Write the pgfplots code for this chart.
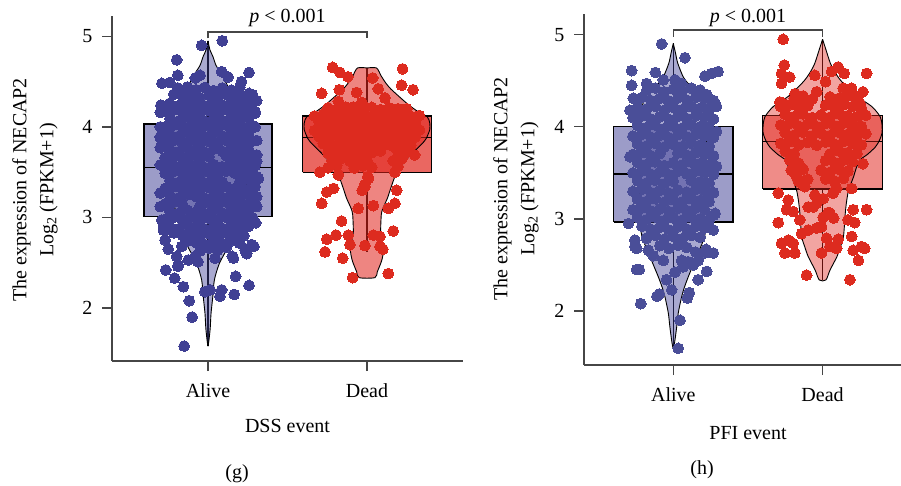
\documentclass[border=0pt]{standalone}
\usepackage{fontspec}
\setmainfont{Liberation Serif}
\usepackage{pgfplots}
\pgfplotsset{compat=1.18}
\definecolor{bbase}{RGB}{65,65,150}
\definecolor{rbase}{RGB}{225,38,30}
\definecolor{ptblueg}{RGB}{64,64,148}
\definecolor{ptblueh}{RGB}{74,78,152}
\definecolor{ptred}{RGB}{221,43,31}
\definecolor{axcol}{RGB}{70,70,70}
\newcommand\bigf{\fontsize{20}{24}\selectfont}
\pgfplotsset{
  myax/.style={scale only axis, axis lines*=left, clip=false, enlargelimits=false,
    xtick={0,1}, xticklabels={Alive,Dead}, ytick={2,3,4,5},
    tick align=outside, major tick length=10pt,
    tick style={line width=1.3pt, axcol},
    axis line style={line width=1.4pt, axcol},
    tick label style={font=\bigf},
    /pgf/number format/assume math mode=true,
    xticklabel style={anchor=base, yshift=-26pt},
    yticklabel style={anchor=east, xshift=-6pt},
  },
  violin/.style={draw=black, line width=0.9pt, smooth, tension=0.45},
  boxst/.style={draw=black, line width=1.3pt, line join=miter},
  pts/.style={only marks, mark=*, mark size=5.4pt, color=#1, mark options={solid, draw=#1, fill=#1, line width=0pt}},
}
\begin{document}
\begin{tikzpicture}
\useasboundingbox (0,0) rectangle (901pt,485pt);
% ---------------- panel g ----------------
\begin{axis}[myax, at={(112pt,124pt)}, anchor=south west, width=351pt, height=345pt,
  xmin=-0.604, xmax=1.604, ymin=1.415, ymax=5.224]
% boxes
\addplot[boxst, fill=bbase, fill opacity=0.52] coordinates {(-0.403,3.01)(0.403,3.01)(0.403,4.03)(-0.403,4.03)(-0.403,3.01)};
\addplot[black, line width=1.5pt] coordinates {(-0.403,3.55)(0.403,3.55)};
\addplot[black, line width=1.3pt] coordinates {(0,4.03)(0,4.95)};
\addplot[black, line width=1.3pt] coordinates {(0,1.58)(0,3.01)};
\addplot[boxst, fill=rbase, fill opacity=0.70] coordinates {(0.595,3.50)(1.405,3.50)(1.405,4.12)(0.595,4.12)(0.595,3.50)};
\addplot[black, line width=1.5pt] coordinates {(0.595,3.885)(1.405,3.885)};
\addplot[black, line width=1.3pt] coordinates {(1,4.12)(1,4.65)};
\addplot[black, line width=1.3pt] coordinates {(1,2.62)(1,3.50)};
% violins
\addplot[violin, fill=bbase, fill opacity=0.45] coordinates {
(0,4.95)(0.012,4.85)(0.03,4.78)(0.05,4.68)(0.082,4.59)(0.11,4.50)(0.135,4.41)(0.165,4.32)(0.197,4.22)(0.22,4.10)(0.24,3.95)(0.25,3.75)(0.25,3.55)(0.24,3.35)(0.215,3.15)(0.19,2.97)(0.176,2.86)(0.128,2.68)(0.071,2.49)(0.04,2.31)(0.03,2.125)(0.019,1.94)(0.013,1.76)(0,1.59)
(-0.013,1.76)(-0.019,1.94)(-0.03,2.125)(-0.04,2.31)(-0.071,2.49)(-0.128,2.68)(-0.176,2.86)(-0.19,2.97)(-0.215,3.15)(-0.24,3.35)(-0.25,3.55)(-0.25,3.75)(-0.24,3.95)(-0.22,4.10)(-0.197,4.22)(-0.165,4.32)(-0.135,4.41)(-0.11,4.50)(-0.082,4.59)(-0.05,4.68)(-0.03,4.78)(-0.012,4.85)(0,4.95)};
\addplot[violin, fill=rbase, fill opacity=0.56] coordinates {
(1,4.65)(1.06,4.65)(1.09,4.56)(1.12,4.48)(1.149,4.42)(1.205,4.33)(1.264,4.24)(1.32,4.17)(1.38,4.11)(1.395,4.04)(1.395,3.97)(1.38,3.90)(1.36,3.84)(1.275,3.69)(1.22,3.58)(1.18,3.47)(1.149,3.32)(1.128,3.21)(1.10,3.10)(1.09,3.03)(1.086,2.84)(1.095,2.75)(1.105,2.66)(1.10,2.58)(1.09,2.51)(1.065,2.40)(1.05,2.335)
(0.95,2.335)(0.935,2.40)(0.91,2.51)(0.90,2.58)(0.895,2.66)(0.905,2.75)(0.914,2.84)(0.91,3.03)(0.90,3.10)(0.872,3.21)(0.851,3.32)(0.82,3.47)(0.78,3.58)(0.725,3.69)(0.64,3.84)(0.62,3.90)(0.605,3.97)(0.605,4.04)(0.62,4.11)(0.68,4.17)(0.736,4.24)(0.795,4.33)(0.851,4.42)(0.88,4.48)(0.91,4.56)(0.94,4.65)(1,4.65)};
% points Alive
\addplot[pts=ptblueg] coordinates {
(-0.04,4.90)(0.09,4.95)(-0.197,4.74)(0.258,4.60)(-0.19,4.57)(-0.29,4.48)(-0.24,4.49)(-0.05,4.57)(0.086,4.61)(0.21,4.50)(-0.19,4.43)(-0.08,4.54)(0.126,4.55)(0.258,4.37)(0.275,4.28)(-0.296,4.24)(0.296,4.17)(-0.30,4.16)(-0.24,4.16)(-0.30,4.00)(-0.30,3.88)(-0.30,3.77)(-0.30,3.58)(-0.23,3.63)(0.296,4.00)(0.306,3.85)(0.306,3.69)(0.296,3.57)(0.317,3.43)(0.306,4.29)(0.296,4.15)
(-0.30,3.89)(-0.30,3.27)(-0.30,3.12)(-0.29,2.97)(-0.28,2.86)(0.306,3.23)(0.306,3.12)(0.296,3.34)(0.306,3.45)(0.306,3.62)
(0.30,2.94)(-0.27,2.75)(-0.25,2.65)(0.289,2.68)(0.243,2.60)(-0.266,2.42)(-0.21,2.33)(-0.187,2.47)(-0.155,2.235)(-0.118,2.08)(-0.10,1.90)(-0.15,1.58)(-0.02,2.18)(0.013,2.20)(0.075,2.13)(0.086,2.20)(0.165,2.15)(0.174,2.35)(0.258,2.25)(0.044,2.55)(0.153,2.57)(0.275,2.70)(0.233,2.64)(0.212,2.87)(-0.28,2.90)(-0.165,2.68)(-0.08,2.57)(-0.063,2.51)(0.107,2.68)(-0.124,2.53)(-0.197,2.57)(-0.19,2.46)(0.16,2.55)(0.216,2.86)
(-0.185,4.42)(-0.13,4.44)(-0.075,4.41)(-0.02,4.435)(0.035,4.40)(0.09,4.43)(0.145,4.405)(0.20,4.44)
(-0.215,4.36)(-0.16,4.33)(-0.105,4.355)(-0.05,4.32)(0.005,4.35)(0.06,4.325)(0.115,4.36)(0.17,4.34)(0.225,4.33)(0.28,4.355)
(-0.24,4.26)(-0.185,4.235)(-0.13,4.27)(-0.075,4.25)(-0.02,4.23)(0.035,4.265)(0.09,4.24)(0.145,4.27)(0.20,4.245)(0.255,4.26)
(-0.27,4.17)(-0.215,4.19)(-0.16,4.16)(-0.105,4.185)(-0.05,4.15)(0.005,4.18)(0.06,4.155)(0.115,4.19)(0.17,4.17)(0.225,4.16)(0.28,4.185)
(-0.24,4.09)(-0.185,4.065)(-0.13,4.10)(-0.075,4.08)(-0.02,4.06)(0.035,4.095)(0.09,4.07)(0.145,4.10)(0.20,4.075)(0.255,4.09)
(-0.27,4.00)(-0.215,4.02)(-0.16,3.99)(-0.105,4.015)(-0.05,3.98)(0.005,4.01)(0.06,3.985)(0.115,4.02)(0.17,4.00)(0.225,3.99)(0.28,4.015)
(-0.24,3.92)(-0.185,3.895)(-0.13,3.93)(-0.075,3.91)(-0.02,3.89)(0.035,3.925)(0.09,3.90)(0.145,3.93)(0.20,3.905)(0.255,3.92)
(-0.27,3.83)(-0.215,3.85)(-0.16,3.82)(-0.105,3.845)(-0.05,3.81)(0.005,3.84)(0.06,3.815)(0.115,3.85)(0.17,3.83)(0.225,3.82)(0.28,3.845)
(-0.24,3.75)(-0.185,3.725)(-0.13,3.76)(-0.075,3.74)(-0.02,3.72)(0.035,3.755)(0.09,3.73)(0.145,3.76)(0.20,3.735)(0.255,3.75)
(-0.27,3.66)(-0.215,3.68)(-0.16,3.65)(-0.105,3.675)(-0.05,3.64)(0.005,3.67)(0.115,3.68)(0.17,3.66)(0.225,3.65)(0.28,3.675)
(-0.24,3.58)(-0.185,3.555)(-0.13,3.59)(-0.075,3.57)(-0.02,3.55)(0.035,3.585)(0.09,3.56)(0.145,3.59)(0.20,3.565)(0.255,3.58)
(-0.27,3.49)(-0.215,3.51)(-0.16,3.48)(-0.105,3.505)(-0.05,3.47)(0.005,3.50)(0.06,3.475)(0.115,3.51)(0.17,3.49)(0.225,3.48)(0.28,3.505)
(-0.24,3.41)(-0.185,3.385)(-0.13,3.42)(-0.075,3.40)(-0.02,3.38)(0.035,3.415)(0.09,3.39)(0.20,3.395)(0.255,3.41)
(-0.27,3.32)(-0.215,3.34)(-0.16,3.31)(-0.105,3.335)(-0.05,3.30)(0.005,3.33)(0.06,3.305)(0.115,3.34)(0.17,3.32)(0.225,3.31)(0.28,3.335)
(-0.24,3.24)(-0.185,3.215)(-0.13,3.25)(-0.075,3.23)(-0.02,3.21)(0.035,3.245)(0.09,3.22)(0.145,3.25)(0.20,3.225)(0.255,3.24)
(-0.27,3.15)(-0.215,3.17)(-0.16,3.14)(-0.05,3.13)(0.005,3.16)(0.06,3.135)(0.115,3.17)(0.17,3.15)(0.225,3.14)(0.28,3.165)
(-0.24,3.07)(-0.185,3.045)(-0.13,3.08)(-0.075,3.06)(-0.02,3.04)(0.035,3.075)(0.09,3.05)(0.145,3.08)(0.20,3.055)(0.255,3.07)
(-0.27,2.98)(-0.215,3.00)(-0.16,2.97)(-0.105,2.995)(-0.05,2.96)(0.005,2.99)(0.06,2.965)(0.115,3.00)(0.17,2.98)(0.225,2.97)(0.28,2.995)
(-0.24,2.90)(-0.185,2.875)(-0.13,2.91)(-0.075,2.89)(-0.02,2.87)(0.035,2.905)(0.09,2.88)(0.145,2.91)(0.20,2.885)(0.255,2.90)
(-0.215,2.83)(-0.16,2.80)(-0.105,2.825)(-0.05,2.79)(0.005,2.82)(0.06,2.795)(0.115,2.83)(0.17,2.81)(0.225,2.80)
(-0.13,2.74)(-0.075,2.72)(-0.02,2.70)(0.035,2.735)(0.09,2.71)(0.145,2.74)(0.20,2.715)
(-0.05,2.63)(0.005,2.66)(0.06,2.635)(0.115,2.67)};
% points Dead
\addplot[pts=ptred] coordinates {
(0.784,4.657)(0.83,4.60)(0.88,4.553)(1.224,4.64)(1.036,4.54)(1.218,4.46)(1.29,4.41)(0.715,4.37)(0.826,4.41)(0.935,4.38)(1.071,4.42)(1.113,4.32)(0.82,4.28)(0.967,4.27)(0.736,4.15)(0.914,4.22)(1.165,4.19)(1.25,4.20)(1.30,3.69)
(0.704,3.50)(0.82,3.47)(1.176,3.50)(0.987,3.34)(1.008,3.43)(0.79,3.32)(0.747,3.28)(1.187,3.30)(0.715,3.155)(0.945,3.10)(1.04,3.13)(1.134,3.10)(1.176,3.155)(0.84,2.96)(1.165,2.85)(0.747,2.76)(0.805,2.805)(0.882,2.805)(0.893,2.70)(1.04,2.805)(1.082,2.79)(0.987,2.69)(1.082,2.68)(1.10,2.65)(0.736,2.62)(0.847,2.55)(0.91,2.335)(1.134,2.38)(0.985,3.36)(1.005,3.45)(0.97,3.30)
(0.755,4.21)(0.81,4.19)(0.865,4.22)(0.975,4.20)(1.03,4.215)(1.085,4.19)(1.14,4.21)(1.195,4.20)(1.25,4.19)
(0.67,4.12)(0.725,4.135)(0.78,4.11)(0.835,4.13)(0.89,4.105)(0.945,4.125)(1.0,4.11)(1.055,4.135)(1.11,4.12)(1.165,4.105)(1.22,4.13)(1.275,4.115)(1.33,4.125)
(0.70,4.05)(0.755,4.03)(0.81,4.055)(0.865,4.04)(0.92,4.025)(0.975,4.05)(1.03,4.035)(1.085,4.055)(1.14,4.03)(1.195,4.045)(1.25,4.04)(1.305,4.05)
(0.67,3.96)(0.725,3.975)(0.78,3.95)(0.835,3.97)(0.89,3.945)(0.945,3.965)(1.0,3.95)(1.055,3.975)(1.11,3.96)(1.165,3.945)(1.22,3.97)(1.275,3.955)(1.33,3.965)
(0.70,3.89)(0.755,3.87)(0.81,3.895)(0.865,3.88)(0.92,3.865)(0.975,3.89)(1.03,3.875)(1.085,3.895)(1.14,3.87)(1.195,3.885)(1.25,3.88)(1.305,3.89)
(0.725,3.815)(0.78,3.79)(0.835,3.81)(0.89,3.785)(0.945,3.805)(1.0,3.79)(1.055,3.815)(1.11,3.80)(1.165,3.785)(1.22,3.81)(1.275,3.795)
(0.755,3.71)(0.81,3.735)(0.865,3.72)(0.92,3.705)(0.975,3.73)(1.03,3.715)(1.085,3.735)(1.195,3.725)(1.25,3.72)
(0.78,3.63)(0.835,3.65)(0.89,3.625)(0.945,3.645)(1.0,3.63)(1.165,3.625)(1.22,3.65)
(0.755,3.55)(0.81,3.575)(0.92,3.545)(0.975,3.57)(1.03,3.555)(1.195,3.565)};
% bracket
\addplot[axcol, line width=1.3pt] coordinates {(0,4.978)(0,5.047)(1,5.047)(1,4.978)};
\end{axis}
% ---------------- panel h ----------------
\begin{axis}[myax, at={(584pt,120pt)}, anchor=south west, width=328pt, height=351pt,
  xmin=-0.598, xmax=1.599, ymin=1.414, ymax=5.225]
\addplot[boxst, fill=bbase, fill opacity=0.52] coordinates {(-0.40,2.966)(0.40,2.966)(0.40,4.0)(-0.40,4.0)(-0.40,2.966)};
\addplot[black, line width=1.5pt] coordinates {(-0.40,3.49)(0.40,3.49)};
\addplot[black, line width=1.3pt] coordinates {(0,4.0)(0,4.906)};
\addplot[black, line width=1.3pt] coordinates {(0,1.6)(0,2.966)};
\addplot[boxst, fill=rbase, fill opacity=0.53] coordinates {(0.598,3.325)(1.402,3.325)(1.402,4.125)(0.598,4.125)(0.598,3.325)};
\addplot[black, line width=1.5pt] coordinates {(0.598,3.84)(1.402,3.84)};
\addplot[black, line width=1.3pt] coordinates {(1,4.125)(1,4.95)};
\addplot[black, line width=1.3pt] coordinates {(1,2.337)(1,3.325)};
\addplot[violin, fill=bbase, fill opacity=0.45] coordinates {
(0,4.906)(0.015,4.80)(0.03,4.69)(0.067,4.54)(0.10,4.47)(0.14,4.40)(0.17,4.33)(0.20,4.27)(0.215,4.15)(0.222,4.0)(0.224,3.75)(0.224,3.46)(0.224,3.2)(0.222,2.95)(0.21,2.81)(0.185,2.70)(0.156,2.59)(0.128,2.48)(0.10,2.37)(0.075,2.26)(0.056,2.155)(0.033,1.975)(0.02,1.79)(0,1.595)
(-0.02,1.79)(-0.033,1.975)(-0.056,2.155)(-0.075,2.26)(-0.10,2.37)(-0.128,2.48)(-0.156,2.59)(-0.185,2.70)(-0.21,2.81)(-0.222,2.95)(-0.224,3.2)(-0.224,3.46)(-0.224,3.75)(-0.222,4.0)(-0.215,4.15)(-0.20,4.27)(-0.17,4.33)(-0.14,4.40)(-0.10,4.47)(-0.067,4.54)(-0.03,4.69)(-0.015,4.80)(0,4.906)};
\addplot[violin, fill=rbase, fill opacity=0.42] coordinates {
(1,4.95)(1.02,4.85)(1.052,4.69)(1.08,4.60)(1.118,4.51)(1.17,4.42)(1.23,4.33)(1.33,4.22)(1.386,4.11)(1.398,4.02)(1.398,3.93)(1.38,3.85)(1.353,3.78)(1.30,3.70)(1.25,3.64)(1.225,3.55)(1.208,3.46)(1.174,3.31)(1.16,3.18)(1.152,3.06)(1.14,2.81)(1.12,2.70)(1.096,2.59)(1.05,2.445)(1.022,2.337)
(0.978,2.337)(0.95,2.445)(0.904,2.59)(0.88,2.70)(0.86,2.81)(0.848,3.06)(0.84,3.18)(0.826,3.31)(0.792,3.46)(0.775,3.55)(0.75,3.64)(0.70,3.70)(0.647,3.78)(0.62,3.85)(0.602,3.93)(0.602,4.02)(0.614,4.11)(0.67,4.22)(0.77,4.33)(0.83,4.42)(0.882,4.51)(0.92,4.60)(0.948,4.69)(0.98,4.85)(1,4.95)};
\addplot[pts=ptblueh] coordinates {
(-0.078,4.90)(0.078,4.75)(-0.279,4.61)(0.212,4.55)(0.257,4.58)(0.30,4.60)(-0.279,4.45)(-0.12,4.59)(-0.268,4.31)(-0.29,4.18)(-0.178,4.47)(-0.067,4.51)(0.011,4.51)(0.056,4.47)(-0.056,4.31)(0.212,4.345)(0.28,4.255)(-0.234,4.15)(0.224,4.35)(0.29,4.22)(-0.29,3.675)(0.29,3.95)(0.29,3.57)(0.28,3.06)(0.268,2.88)
(-0.257,2.77)(-0.245,2.68)(-0.245,2.45)(-0.228,2.45)(0.268,2.63)(0.224,2.43)(0.167,2.34)(-0.218,2.08)(-0.11,2.16)(-0.094,2.185)(0.107,2.2)(0.094,2.14)(-0.011,2.23)(0.045,1.90)(0.033,1.595)(-0.045,2.34)(0.011,2.42)(0.067,2.48)(0.167,2.55)(0.15,2.64)(0.22,2.67)(-0.257,2.70)(-0.167,2.66)(-0.134,2.60)(-0.067,2.55)(0.056,2.55)(0.1,2.535)(0.134,2.50)(0.212,2.63)(-0.3,2.95)(0.268,3.04)
(-0.18,4.39)(-0.12,4.42)(-0.06,4.38)(0.0,4.41)(0.06,4.385)(0.12,4.42)(0.18,4.40)
(-0.21,4.32)(-0.15,4.285)(-0.09,4.31)(-0.03,4.28)(0.03,4.315)(0.09,4.29)(0.15,4.32)(0.21,4.30)(0.27,4.285)
(-0.24,4.215)(-0.18,4.19)(-0.12,4.22)(-0.06,4.18)(0.0,4.21)(0.06,4.185)(0.12,4.22)(0.18,4.20)(0.24,4.19)
(-0.27,4.10)(-0.21,4.12)(-0.15,4.085)(-0.09,4.11)(-0.03,4.08)(0.03,4.115)(0.09,4.09)(0.15,4.12)(0.21,4.10)(0.27,4.085)
(-0.24,4.015)(-0.18,3.99)(-0.12,4.02)(-0.06,3.98)(0.0,4.01)(0.06,3.985)(0.12,4.02)(0.18,4.00)(0.24,3.99)
(-0.27,3.90)(-0.21,3.92)(-0.15,3.885)(-0.09,3.91)(-0.03,3.88)(0.03,3.915)(0.09,3.89)(0.15,3.92)(0.21,3.90)(0.27,3.885)
(-0.24,3.815)(-0.18,3.79)(-0.12,3.82)(-0.06,3.78)(0.0,3.81)(0.06,3.785)(0.12,3.82)(0.18,3.80)(0.24,3.79)
(-0.27,3.70)(-0.21,3.72)(-0.15,3.685)(-0.09,3.71)(0.03,3.715)(0.09,3.69)(0.15,3.72)(0.21,3.70)(0.27,3.685)
(-0.24,3.615)(-0.18,3.59)(-0.12,3.62)(-0.06,3.58)(0.0,3.61)(0.06,3.585)(0.12,3.62)(0.18,3.60)(0.24,3.59)
(-0.27,3.50)(-0.21,3.52)(-0.15,3.485)(-0.09,3.51)(-0.03,3.48)(0.03,3.515)(0.09,3.49)(0.15,3.52)(0.21,3.50)(0.27,3.485)
(-0.24,3.415)(-0.18,3.39)(-0.12,3.42)(-0.06,3.38)(0.0,3.41)(0.12,3.42)(0.18,3.40)(0.24,3.39)
(-0.27,3.30)(-0.21,3.32)(-0.15,3.285)(-0.09,3.31)(-0.03,3.28)(0.03,3.315)(0.09,3.29)(0.15,3.32)(0.21,3.30)(0.27,3.285)
(-0.24,3.215)(-0.18,3.19)(-0.12,3.22)(-0.06,3.18)(0.0,3.21)(0.06,3.185)(0.12,3.22)(0.18,3.20)(0.24,3.19)
(-0.27,3.10)(-0.21,3.12)(-0.15,3.085)(-0.09,3.11)(-0.03,3.08)(0.03,3.115)(0.09,3.09)(0.15,3.12)(0.21,3.10)
(-0.24,3.015)(-0.18,2.99)(-0.12,3.02)(-0.06,2.98)(0.0,3.01)(0.06,2.985)(0.12,3.02)(0.18,3.00)(0.24,2.99)
(-0.21,2.92)(-0.15,2.885)(-0.09,2.91)(-0.03,2.88)(0.03,2.915)(0.09,2.89)(0.15,2.92)(0.21,2.90)
(-0.18,2.79)(-0.12,2.82)(-0.06,2.78)(0.0,2.81)(0.06,2.785)(0.12,2.82)(0.18,2.80)
(-0.09,2.71)(-0.03,2.68)(0.03,2.715)(0.09,2.69)};
\addplot[pts=ptred] coordinates {
(0.736,4.95)(0.743,4.67)(0.725,4.58)(0.725,4.47)(0.78,4.54)(0.948,4.56)(1.02,4.49)(1.06,4.60)(1.104,4.65)(1.145,4.58)(1.295,4.58)(0.96,4.38)(0.815,4.36)(0.714,4.27)(1.138,4.42)(1.194,4.42)(1.27,4.38)(1.225,4.31)(1.07,4.29)(1.116,4.27)(0.88,4.255)(0.837,4.24)(1.27,3.60)(1.25,4.255)(0.736,4.255)
(0.703,3.28)(0.77,3.205)(0.759,3.10)(0.803,3.08)(0.703,2.96)(0.848,2.99)(1.205,3.10)(1.295,3.10)(1.17,2.99)(1.215,2.96)(1.195,2.81)(0.725,2.735)(0.77,2.77)(0.803,2.735)(0.748,2.63)(0.815,2.63)(1.205,2.66)(1.26,2.70)(1.283,2.68)(1.24,2.55)(0.893,2.39)(1.183,2.34)(0.993,2.63)(1.094,2.68)(1.105,2.78)(1.027,2.79)(0.859,2.84)(0.904,2.88)(0.96,2.90)(0.993,2.915)(1.074,3.01)(1.038,3.07)(0.904,3.13)(0.96,3.17)(1.004,3.22)(0.88,3.35)(0.948,3.26)(1.07,3.28)(1.082,3.40)(1.094,3.33)(0.79,3.53)(0.826,3.46)(1.195,3.33)(1.05,2.70)(0.937,3.13)(1.004,3.02)(1.05,3.06)
(0.81,4.31)(0.87,4.335)(0.93,4.30)(1.05,4.325)(1.11,4.31)(1.17,4.335)(1.23,4.32)
(0.72,4.22)(0.78,4.24)(0.84,4.205)(0.90,4.23)(1.02,4.235)(1.08,4.21)(1.14,4.24)(1.20,4.22)(1.26,4.205)
(0.75,4.135)(0.81,4.11)(0.87,4.14)(0.93,4.10)(0.99,4.13)(1.05,4.105)(1.11,4.14)(1.17,4.12)(1.23,4.11)(1.29,4.125)
(0.72,4.02)(0.78,4.04)(0.84,4.005)(0.90,4.03)(0.96,4.00)(1.02,4.035)(1.08,4.01)(1.14,4.04)(1.20,4.02)(1.26,4.005)
(0.75,3.935)(0.81,3.91)(0.87,3.94)(0.93,3.90)(0.99,3.93)(1.05,3.905)(1.11,3.94)(1.17,3.92)(1.23,3.91)(1.29,3.925)
(0.72,3.82)(0.78,3.84)(0.84,3.805)(0.90,3.83)(0.96,3.80)(1.02,3.835)(1.08,3.81)(1.14,3.84)(1.20,3.82)(1.26,3.805)
(0.75,3.735)(0.81,3.71)(1.05,3.705)(1.11,3.74)(1.17,3.72)(1.23,3.71)
(0.78,3.64)(0.84,3.605)(1.02,3.635)(1.08,3.61)(1.14,3.64)(1.20,3.62)
(0.81,3.51)(0.87,3.54)(0.99,3.53)(1.05,3.505)(1.11,3.54)(1.17,3.52)
(0.84,3.405)(0.90,3.43)(1.02,3.435)(1.08,3.41)(1.14,3.44)};
\addplot[axcol, line width=1.3pt] coordinates {(0,4.978)(0,5.051)(1,5.051)(1,4.978)};
\end{axis}
% ---------------- texts ----------------
\node[rotate=90, align=center, font=\fontsize{20}{27}\selectfont] at (35pt,295pt) {The expression of NECAP2\\Log\textsubscript{2} (FPKM+1)};
\node[rotate=90, align=center, font=\fontsize{20}{27}\selectfont] at (516pt,296pt) {The expression of NECAP2\\Log\textsubscript{2} (FPKM+1)};
\node[font=\bigf, anchor=base] at (287.5pt,462.3pt) {\textit{p} < 0.001};
\node[font=\bigf, anchor=base] at (748pt,462.3pt) {\textit{p} < 0.001};
\node[font=\bigf, anchor=base] at (287.5pt,52.3pt) {DSS event};
\node[font=\bigf, anchor=base] at (748pt,45.7pt) {PFI event};
\node[font=\bigf, anchor=base] at (237pt,7pt) {(g)};
\node[font=\bigf, anchor=base] at (702pt,10.5pt) {(h)};
\end{tikzpicture}
\end{document}
